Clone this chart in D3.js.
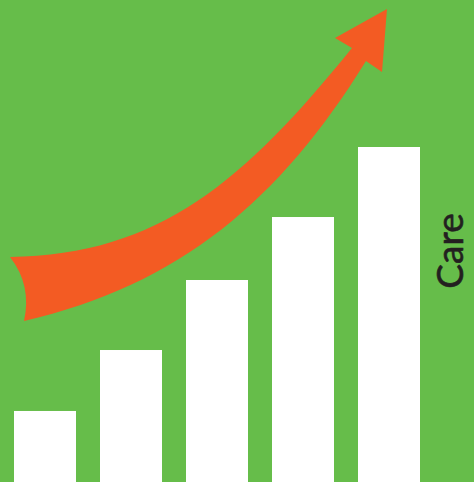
<!DOCTYPE html>
<html><head><meta charset="utf-8">
<script src="https://cdn.jsdelivr.net/npm/d3@7"></script>
<style>html,body{margin:0;padding:0;background:#66bd4a;overflow:hidden}</style>
</head><body>
<script>
const categories = ["1", "2", "3", "4", "5"];
const values = [21.2, 39.4, 60.3, 79.1, 100];
const label = "Care";

const W = 474, H = 482;
const svg = d3.select("body").append("svg").attr("width", W).attr("height", H);
svg.append("rect").attr("width", W).attr("height", H).attr("fill", "#66bd4a");

const x = d3.scaleBand().domain(categories).range([2, 432]).paddingInner(0.279).paddingOuter(0.1395);
const y = d3.scaleLinear().domain([0, 100]).range([H, 147]);

svg.selectAll("rect.bar").data(values).join("rect").attr("class", "bar")
  .attr("x", (d, i) => x(categories[i])).attr("width", x.bandwidth())
  .attr("y", d => y(d)).attr("height", d => H - y(d)).attr("fill", "#ffffff");

// trend arrow
const p = d3.path();
p.moveTo(10, 257);
p.bezierCurveTo(160, 255, 245, 180, 352, 48);
p.lineTo(335, 38);
p.lineTo(387, 9);
p.lineTo(382, 72);
p.lineTo(366, 61);
p.bezierCurveTo(280, 200, 180, 285, 24, 321);
p.quadraticCurveTo(32, 285, 10, 257);
p.closePath();
svg.append("path").attr("d", p.toString()).attr("fill", "#f35b23");

svg.append("text").attr("transform", "translate(463,251) rotate(-90)")
  .attr("text-anchor", "middle").attr("font-family", "Lato, sans-serif")
  .attr("font-size", 37).attr("fill", "#231f20")
  .attr("stroke", "#231f20").attr("stroke-width", 0.6).text(label);
</script>
</body></html>
